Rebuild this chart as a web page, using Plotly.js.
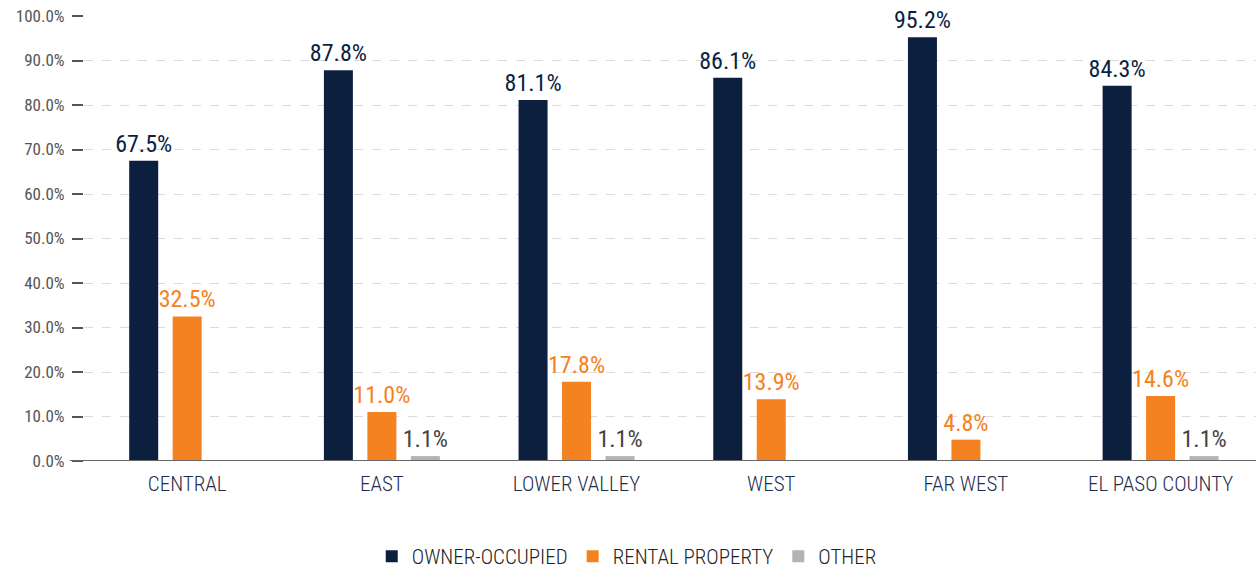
<!DOCTYPE html>
<html>
<head>
<meta charset="utf-8">
<script src="https://cdn.plot.ly/plotly-3.0.1.min.js"></script>
<style>html,body{margin:0;padding:0;background:#fff;}#chart{width:1256px;height:569px;}</style>
</head>
<body>
<div id="chart"></div>
<script>
const categories = ["CENTRAL", "EAST", "LOWER VALLEY", "WEST", "FAR WEST", "EL PASO COUNTY"];
const ownerOccupied = [67.5, 87.8, 81.1, 86.1, 95.2, 84.3];
const rentalProperty = [32.5, 11.0, 17.8, 13.9, 4.8, 14.6];
const other = [null, 1.1, 1.1, null, null, 1.1];
const seriesNames = ["OWNER-OCCUPIED", "RENTAL PROPERTY", "OTHER"];
const yTickVals = [0, 10, 20, 30, 40, 50, 60, 70, 80, 90, 100];

const FONT = "'Roboto Condensed', 'Liberation Sans Narrow', Roboto, sans-serif";
const colors = ["#0c1f3f", "#f58220", "#b3b3b3"];
const textColors = ["#0c1f3f", "#f58220", "#444444"];

function fmt(arr) { return arr.map(v => v == null ? "" : v.toFixed(1) + "%"); }

const series = [ownerOccupied, rentalProperty, other];
const traces = series.map((vals, i) => ({
  type: "bar",
  name: seriesNames[i],
  x: categories,
  y: vals,
  text: fmt(vals),
  textposition: "outside",
  constraintext: "none",
  textfont: {family: FONT, size: 24, weight: 400, color: textColors[i]},
  cliponaxis: false,
  marker: {color: colors[i]},
  hoverinfo: "skip"
}));

const layout = {
  width: 1256, height: 569,
  margin: {l: 84, r: 0, t: 16, b: 108},
  paper_bgcolor: "#fff", plot_bgcolor: "#fff",
  font: {family: FONT, color: "#555", weight: 400},
  barmode: "group",
  bargap: 0.33,
  bargroupgap: 0.333,
  showlegend: true,
  legend: {
    orientation: "h", xref: "container", yref: "container",
    x: 0.499, xanchor: "center", y: 0.022, yanchor: "middle",
    font: {family: FONT, size: 21, weight: 300, color: "#222"},
    itemwidth: 30, traceorder: "normal"
  },
  xaxis: {
    type: "category",
    range: [-0.53, 5.49],
    showgrid: false, zeroline: false, showline: false,
    ticks: "",
    tickfont: {family: FONT, size: 21, weight: 300, color: "#1f2d4d"},
    ticklabelstandoff: 8
  },
  yaxis: {
    range: [0, 100],
    tickvals: yTickVals,
    ticktext: yTickVals.map(v => v.toFixed(1) + "%"),
    tickfont: {family: FONT, size: 17, weight: 400, color: "#555"},
    ticks: "outside", ticklen: 11, tickwidth: 2, tickcolor: "#555",
    ticklabelstandoff: 4,
    showgrid: true, gridcolor: "#dcdcdc", griddash: "dash", gridwidth: 1,
    zeroline: false, showline: false
  },
  shapes: [{
    type: "line", xref: "paper", yref: "y",
    x0: -0.012, x1: 1, y0: 0, y1: 0,
    line: {color: "#666", width: 2}
  }]
};

Plotly.newPlot("chart", traces, layout, {displayModeBar: false, staticPlot: true});
</script>
</body>
</html>
